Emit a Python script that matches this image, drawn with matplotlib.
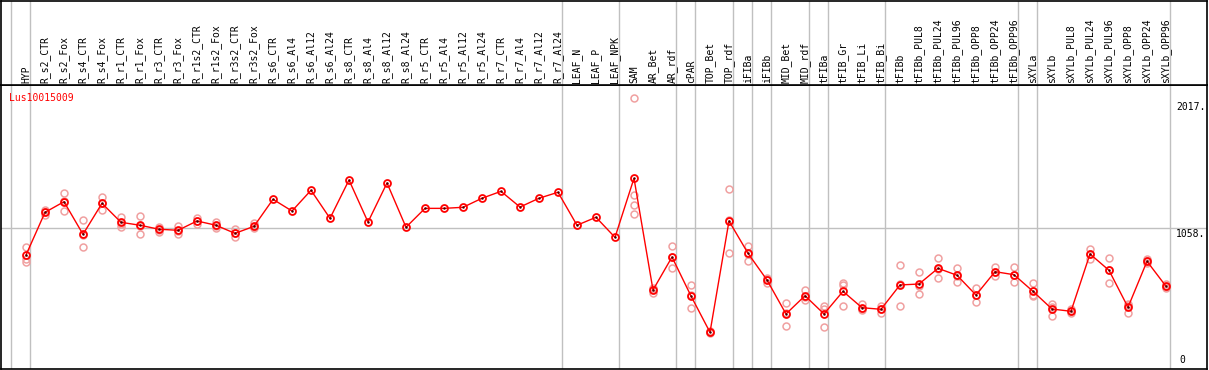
import matplotlib.pyplot as plt

labels = [
    "HYP", "R_s2_CTR", "R_s2_Fox", "R_s4_CTR", "R_s4_Fox", "R_r1_CTR", "R_r1_Fox",
    "R_r3_CTR", "R_r3_Fox", "R_r1s2_CTR", "R_r1s2_Fox", "R_r3s2_CTR", "R_r3s2_Fox",
    "R_s6_CTR", "R_s6_Al4", "R_s6_Al12", "R_s6_Al24", "R_s8_CTR", "R_s8_Al4",
    "R_s8_Al12", "R_s8_Al24", "R_r5_CTR", "R_r5_Al4", "R_r5_Al12", "R_r5_Al24",
    "R_r7_CTR", "R_r7_Al4", "R_r7_Al12", "R_r7_Al24", "LEAF_N", "LEAF_P", "LEAF_NPK",
    "SAM", "AR_Bet", "AR_rdf", "cPAR", "TOP_Bet", "TOP_rdf", "iFIBa", "iFIBb",
    "MID_Bet", "MID_rdf", "tFIBa", "tFIB_Gr", "tFIB_Li", "tFIB_Bi", "tFIBb",
    "tFIBb_PUL8", "tFIBb_PUL24", "tFIBb_PUL96", "tFIBb_OPP8", "tFIBb_OPP24",
    "tFIBb_OPP96", "sXYLa", "sXYLb", "sXYLb_PUL8", "sXYLb_PUL24", "sXYLb_PUL96",
    "sXYLb_OPP8", "sXYLb_OPP24", "sXYLb_OPP96",
]

# mean expression per sample
means = [
    857, 1178, 1258, 1013, 1246, 1103, 1081, 1051, 1043, 1113, 1081, 1020, 1073,
    1276, 1188, 1344, 1133, 1421, 1105, 1399, 1066, 1208, 1208, 1216, 1284,
    1336, 1218, 1284, 1329, 1081, 1141, 990,
    1434, 594, 842, 549, 276, 1113, 870, 669, 414, 551, 414, 584, 461, 449, 632,
    639, 757, 705, 556, 732, 709, 584, 451, 434, 865, 742, 464, 810, 622,
]

# individual replicates (empty where only one value)
replicates = [
    [915, 825, 807], [1196, 1158, 1181], [1321, 1190, 1263], [1118, 915, 1005],
    [1293, 1193, 1251], [1145, 1070, 1094], [1151, 1013, 1078], [1070, 1032, 1049],
    [1078, 1015, 1036], [1133, 1090, 1115], [1105, 1060, 1075], [1051, 990, 1020],
    [1096, 1058, 1066],
    [], [], [], [], [], [], [], [], [], [], [], [], [], [], [], [], [], [], [],
    [2036, 1308, 1233, 1163], [607, 574, 602], [923, 762, 842], [632, 456, 559],
    [270, 276, 282], [1351, 870, 1117], [927, 814, 868], [682, 649, 677],
    [494, 323, 423], [594, 519, 541], [476, 316, 449], [649, 632, 474],
    [489, 444, 451], [474, 419, 454], [782, 474, 639], [729, 566, 622],
    [835, 682, 755], [757, 656, 700], [607, 506, 556], [769, 699, 726],
    [767, 652, 708], [644, 556, 552], [489, 401, 464], [449, 419, 434],
    [900, 829, 865], [835, 644, 747], [489, 423, 480], [825, 795, 810],
    [639, 614, 612],
]

group_starts = [0, 1, 29, 32, 35, 36, 38, 39, 40, 42, 43, 46, 53, 54, 61]
y_ticks = [0, 1058, 2017]
y_tick_labels = ["0", "1058.", "2017."]
gene = "Lus10015009"

W, H = 1209, 370
fig = plt.figure(figsize=(W / 100, H / 100), dpi=100)
mono = "DejaVu Sans Mono"

x_lo, x_hi = (1 - 26) / 19, (1207 - 26) / 19
ax = fig.add_axes([1 / W, 1 / H, 1206 / W, 284 / H])
hd = fig.add_axes([1 / W, 285 / H, 1206 / W, 84.5 / H], sharex=ax)
ax.set_xlim(x_lo, x_hi)
ax.set_ylim(0, 284 / 0.13298)

for a in (ax, hd):
    a.set_xticks([])
    a.set_yticks([])
    for s in a.spines.values():
        s.set_color("black")
        s.set_linewidth(1.2)
    for g in group_starts:
        a.axvline(g - 15 / 19, color="#c0c0c0", lw=1, zorder=0)
hd.set_ylim(0, 1)

xs = list(range(len(labels)))
for i, reps in enumerate(replicates):
    if reps:
        ax.plot([i] * len(reps), reps, "o", ms=5, mfc="none", mec="#f0a0a0",
                mew=1.1, ls="none", zorder=2)

ax.axhline(y_ticks[1], color="#c0c0c0", lw=1, zorder=0)
ax.plot(xs, means, "-", color="red", lw=1, zorder=3)
ax.plot(xs, means, "o", ms=5, mfc="none", mec="red", mew=1.3, zorder=4)
ax.plot(xs, means, ".", ms=1.5, color="#400000", zorder=5)

for i, lab in enumerate(labels):
    hd.text(i, 2 / 85, lab, rotation=90, ha="center", va="bottom",
            fontsize=7, family=mono)

tx = (1176 - 26) / 19
for v, t in zip(y_ticks, y_tick_labels):
    if v == 0:
        ax.annotate(t, (tx + 0.2, v), xytext=(0, 4), textcoords="offset pixels",
                    ha="left", va="bottom", fontsize=7, family=mono)
    else:
        ax.annotate(t, (tx, v), xytext=(0, -1), textcoords="offset pixels",
                    ha="left", va="top", fontsize=7, family=mono)

ax.text(8.3 / 1206, (369 - 97.7) / 284, gene, transform=ax.transAxes, color="red",
        ha="left", va="center", fontsize=7, family=mono)

fig.savefig("out.png", dpi=100)
